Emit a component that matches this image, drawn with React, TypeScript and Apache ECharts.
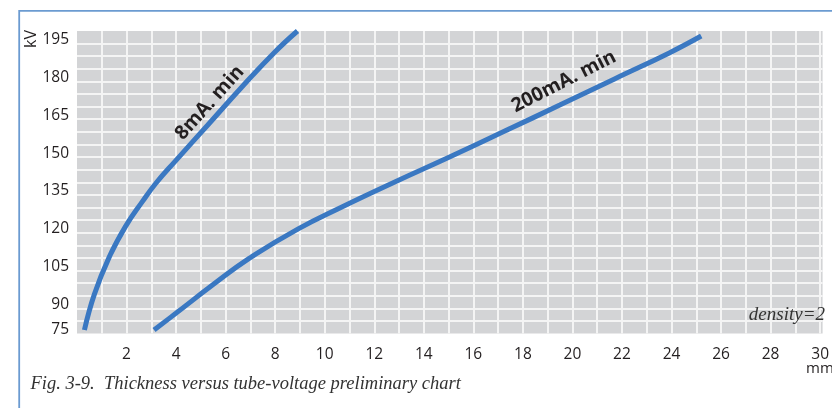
import React, { useEffect, useRef } from 'react';
import * as echarts from 'echarts';

// Thickness (mm) vs tube voltage (kV)
const curve8mA: [number, number][] = [
  [0.3, 81.4], [0.7, 95.5], [1.3, 110.3], [1.96, 122.5], [2.63, 132.2],
  [3.2, 139.8], [3.96, 148.3], [5.28, 162.7], [6.61, 177.3], [7.94, 191.2], [8.9, 200.0],
];
const curve200mA: [number, number][] = [
  [3.11, 81.4], [3.99, 88.0], [5.47, 99.2], [6.95, 109.8], [8.93, 121.5],
  [10.63, 129.9], [12.85, 140.2], [15.06, 150.1], [17.27, 160.3], [19.49, 170.6],
  [21.7, 181.0], [23.91, 191.3], [25.2, 198.0],
];
const seriesNames = ['8mA. min', '200mA. min'];
const labelAnchors: [number, number][] = [[5.3, 172.0], [19.62, 180.6]];
const labelAngles = [48, 27];

const xLabelValues = [2, 4, 6, 8, 10, 12, 14, 16, 18, 20, 22, 24, 26, 28, 30];
const yTickValues = [80, 90, 105, 120, 135, 150, 165, 180, 195];
const yTickLabels = ['75', '90', '105', '120', '135', '150', '165', '180', '195'];

const caption = 'Fig. 3-9.\u00a0 Thickness versus tube-voltage preliminary chart';
const note = 'density=2';
const yUnit = 'kV';
const xUnit = 'mm';

export default function App() {
  const ref = useRef<HTMLDivElement>(null);
  useEffect(() => {
    const chart = echarts.init(ref.current!, null, { renderer: 'svg' });
    const sans = "'Open Sans', 'Noto Sans', sans-serif";
    const serif = "'Liberation Serif', 'DejaVu Serif', serif";
    const blue = '#3a78c2';
    const ink = '#231f20';
    const frame = '#6b9bd1';

    const makeSeries = (name: string, data: [number, number][], i: number) => ({
      type: 'line',
      name,
      data,
      symbol: 'none',
      showSymbol: false,
      smooth: 0.45,
      silent: true,
      lineStyle: { color: blue, width: 5, cap: 'butt' },
      markPoint: {
        symbol: 'circle',
        symbolSize: 0,
        silent: true,
        itemStyle: { color: 'transparent' },
        data: [
          {
            coord: labelAnchors[i],
            label: {
              show: true,
              position: 'inside',
              formatter: name,
              rotate: labelAngles[i],
              fontFamily: sans,
              fontWeight: 'bold',
              fontSize: 19.5,
              color: ink,
            },
          },
        ],
      },
    });

    chart.setOption({
      animation: false,
      grid: {
        left: 77,
        right: 0,
        top: 31,
        height: 302.5,
        show: true,
        backgroundColor: '#d3d4d6',
        borderWidth: 0,
      },
      xAxis: {
        type: 'value',
        min: 0,
        max: 30.1,
        interval: 1,
        axisLine: { show: false },
        axisTick: { show: false },
        splitLine: { show: true, showMinLine: false, showMaxLine: false, lineStyle: { color: '#f4f4f4', width: 2 } },
        axisLabel: {
          margin: 11,
          fontFamily: sans,
          fontSize: 15.5,
          color: ink,
          formatter: (v: number) => {
            const idx = xLabelValues.findIndex((t) => Math.abs(t - v) < 1e-6);
            return idx >= 0 ? String(xLabelValues[idx]) : '';
          },
        },
      },
      yAxis: {
        type: 'value',
        min: 80,
        max: 200,
        interval: 5,
        axisLine: { show: false },
        axisTick: { show: false },
        splitLine: { show: true, showMinLine: false, showMaxLine: false, lineStyle: { color: '#f4f4f4', width: 2 } },
        axisLabel: {
          margin: 8,
          fontFamily: sans,
          fontSize: 15.5,
          color: ink,
          verticalAlign: 'bottom',
          lineHeight: 11,
          formatter: (v: number) => {
            const idx = yTickValues.findIndex((t) => Math.abs(t - v) < 1e-6);
            return idx >= 0 ? yTickLabels[idx] : '';
          },
        },
      },
      graphic: [
        { type: 'line', silent: true, z: 100, shape: { x1: 19, y1: 10.8, x2: 832, y2: 10.8 }, style: { stroke: frame, lineWidth: 1.8 } },
        { type: 'line', silent: true, z: 100, shape: { x1: 19.2, y1: 10, x2: 19.2, y2: 408 }, style: { stroke: frame, lineWidth: 1.8 } },
        {
          type: 'text', silent: true, z: 100, x: 30, y: 39, rotation: Math.PI / 2,
          style: { text: yUnit, fontFamily: sans, fontSize: 16, fill: ink, align: 'center', verticalAlign: 'middle' },
        },
        {
          type: 'text', silent: true, z: 100, x: 806, y: 366.5,
          style: { text: xUnit, fontFamily: sans, fontSize: 15, fill: ink, align: 'left', verticalAlign: 'middle' },
        },
        {
          type: 'text', silent: true, z: 100, x: 825, y: 313,
          style: { text: note, fontFamily: serif, fontStyle: 'italic', fontSize: 19, fill: '#333', align: 'right', verticalAlign: 'middle' },
        },
        {
          type: 'text', silent: true, z: 100, x: 30.5, y: 382.5,
          style: { text: caption, fontFamily: serif, fontStyle: 'italic', fontSize: 18.5, fill: '#333', align: 'left', verticalAlign: 'middle' },
        },
      ],
      series: [makeSeries(seriesNames[0], curve8mA, 0), makeSeries(seriesNames[1], curve200mA, 1)],
    });
    return () => chart.dispose();
  }, []);
  return <div ref={ref} style={{ position: 'fixed', left: 0, top: 0, width: 832, height: 408 }} />;
}
